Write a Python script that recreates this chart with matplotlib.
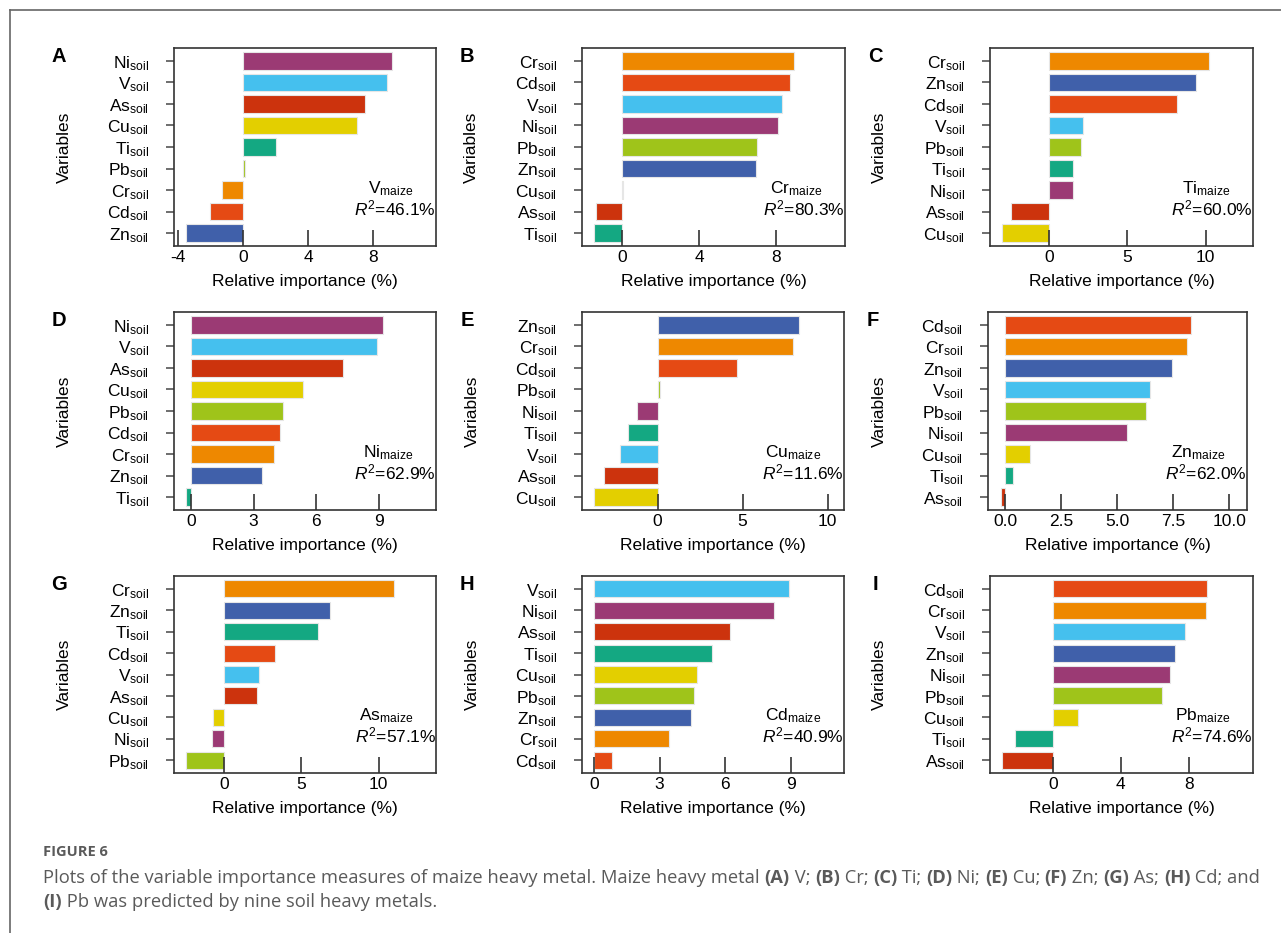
import numpy as np
import matplotlib
matplotlib.use("Agg")
import matplotlib.pyplot as plt
from matplotlib.lines import Line2D

plt.rcParams['font.family'] = ['Liberation Sans', 'DejaVu Sans']
plt.rcParams['mathtext.fontset'] = 'custom'
plt.rcParams['mathtext.rm'] = 'Liberation Sans'
plt.rcParams['mathtext.it'] = 'Liberation Sans:italic'
plt.rcParams['axes.unicode_minus'] = False

# colours of the soil metals
colors = {'Ni': '#9b3a74', 'V': '#45c0ee', 'As': '#cc330d', 'Cu': '#e3cf00',
          'Ti': '#14a882', 'Pb': '#9fc41a', 'Cr': '#ee8800', 'Cd': '#e54a14',
          'Zn': '#4060aa'}

# data, one panel each (top bar first)
letters = ['A', 'B', 'C', 'D', 'E', 'F', 'G', 'H', 'I']
maize = ['V', 'Cr', 'Ti', 'Ni', 'Cu', 'Zn', 'As', 'Cd', 'Pb']
r2 = ['46.1', '80.3', '60.0', '62.9', '11.6', '62.0', '57.1', '40.9', '74.6']
vars_A = ['Ni', 'V', 'As', 'Cu', 'Ti', 'Pb', 'Cr', 'Cd', 'Zn']
vals_A = [9.15, 8.82, 7.47, 7.02, 2.01, 0.12, -1.33, -2.05, -3.55]
vars_B = ['Cr', 'Cd', 'V', 'Ni', 'Pb', 'Zn', 'Cu', 'As', 'Ti']
vals_B = [8.92, 8.71, 8.28, 8.07, 6.98, 6.96, 0.03, -1.38, -1.47]
vars_C = ['Cr', 'Zn', 'Cd', 'V', 'Pb', 'Ti', 'Ni', 'As', 'Cu']
vals_C = [10.23, 9.36, 8.15, 2.19, 2.04, 1.53, 1.51, -2.41, -2.98]
vars_D = ['Ni', 'V', 'As', 'Cu', 'Pb', 'Cd', 'Cr', 'Zn', 'Ti']
vals_D = [9.17, 8.92, 7.28, 5.38, 4.39, 4.28, 3.99, 3.38, -0.24]
vars_E = ['Zn', 'Cr', 'Cd', 'Pb', 'Ni', 'Ti', 'V', 'As', 'Cu']
vals_E = [8.29, 7.94, 4.69, 0.12, -1.22, -1.75, -2.24, -3.16, -3.75]
vars_F = ['Cd', 'Cr', 'Zn', 'V', 'Pb', 'Ni', 'Cu', 'Ti', 'As']
vals_F = [8.28, 8.10, 7.46, 6.45, 6.27, 5.42, 1.10, 0.36, -0.19]
vars_G = ['Cr', 'Zn', 'Ti', 'Cd', 'V', 'As', 'Cu', 'Ni', 'Pb']
vals_G = [10.97, 6.85, 6.08, 3.30, 2.26, 2.15, -0.69, -0.78, -2.48]
vars_H = ['V', 'Ni', 'As', 'Ti', 'Cu', 'Pb', 'Zn', 'Cr', 'Cd']
vals_H = [8.92, 8.22, 6.22, 5.40, 4.70, 4.56, 4.45, 3.43, 0.84]
vars_I = ['Cd', 'Cr', 'V', 'Zn', 'Ni', 'Pb', 'Cu', 'Ti', 'As']
vals_I = [9.06, 9.00, 7.80, 7.19, 6.92, 6.41, 1.47, -2.20, -2.96]

all_vars = [vars_A, vars_B, vars_C, vars_D, vars_E, vars_F, vars_G, vars_H, vars_I]
all_vals = [vals_A, vals_B, vals_C, vals_D, vals_E, vals_F, vals_G, vals_H, vals_I]
xlims = [(-4.26, 11.86), (-2.09, 11.56), (-3.77, 13.02), (-0.81, 11.73), (-4.45, 10.96),
         (-0.76, 10.79), (-3.23, 13.7), (-0.55, 11.44), (-3.69, 11.78)]
xticks = [[-4, 0, 4, 8], [0, 4, 8], [0, 5, 10], [0, 3, 6, 9], [0, 5, 10],
          [0, 2.5, 5, 7.5, 10], [0, 5, 10], [0, 3, 6, 9], [0, 4, 8]]

W, H = 1281, 933
fig = plt.figure(figsize=(W / 100, H / 100), dpi=100)

lefts = [[174, 582, 990], [174, 582, 988], [174, 582, 990]]
rights = [[436, 845, 1253], [436, 844, 1247], [436, 844, 1253]]
tops = [48, 312, 576]
bots = [246, 510, 773]
frame = '#333333'

for k in range(9):
    r, c = divmod(k, 3)
    l, rt = lefts[r][c], rights[r][c]
    ax = fig.add_axes([l / W, 1 - bots[r] / H, (rt - l) / W, (bots[r] - tops[r]) / H])
    names = all_vars[k]
    vals = all_vals[k]
    y = np.arange(len(names))[::-1]
    ax.barh(y, vals, height=0.8, color=[colors[n] for n in names],
            edgecolor='#e6e6e6', linewidth=0.8)
    ax.set_ylim(-0.6, 8.6)
    ax.set_xlim(*xlims[k])
    ax.set_xticks(xticks[k])
    if k == 5:
        ax.set_xticklabels(['%.1f' % t for t in xticks[k]])
    else:
        ax.set_xticklabels(['%g' % t for t in xticks[k]])
    ax.set_yticks(y)
    ax.set_yticklabels([r'$\mathrm{%s}_{\mathrm{soil}}$' % n for n in names])
    ax.tick_params(axis='x', direction='in', length=11.5, width=1.2, color=frame,
                   labelsize=12.5, pad=3)
    ax.tick_params(axis='y', direction='out', length=6, width=1.2, color='#555555',
                   labelsize=12.5, pad=12)
    for s in ax.spines.values():
        s.set_color(frame)
        s.set_linewidth(1.2)
    ax.set_xlabel('Relative importance (%)', fontsize=12.5, va='center')
    ax.xaxis.set_label_coords(0.5, -0.18)
    ax.set_ylabel('Variables', fontsize=12.5, va='center')
    ax.yaxis.set_label_coords(-0.42, 0.5)
    ax.text(0.915, 0.29, r'$\mathrm{%s}_{\mathrm{maize}}$' % maize[k], transform=ax.transAxes,
            ha='right', va='center', fontsize=12.5)
    ax.text(1.0, 0.19, r'$\mathit{R}^{2}$=' + r2[k] + '%', transform=ax.transAxes,
            ha='right', va='center', fontsize=12.5)
    fig.text((l - 115) / W, 1 - (tops[r] + 8) / H, letters[k], fontsize=14.5,
             fontweight='bold', ha='center', va='center')

# page border lines
fig.add_artist(Line2D([10 / W, 1], [1 - 10 / H, 1 - 10 / H], color='#666666', lw=1.2))
fig.add_artist(Line2D([10 / W, 10 / W], [0, 1 - 10 / H], color='#666666', lw=1.2))

# caption
cap_font = ['Open Sans', 'DejaVu Sans']
grey = '#5a5a5a'
fig.text(43 / W, 1 - 852 / H, 'FIGURE 6', fontsize=10.5, color=grey, family=cap_font,
         va='center', fontweight='bold')

def rich_line(x, y, parts, size):
    renderer = fig.canvas.get_renderer()
    for s, bold in parts:
        t = fig.text(x / W, 1 - y / H, s, fontsize=size, color=grey, family=cap_font,
                     fontweight='bold' if bold else 'normal', va='center')
        x += t.get_window_extent(renderer).width

line1 = [('Plots of the variable importance measures of maize heavy metal. Maize heavy metal ', False),
         ('(A)', True), (' V; ', False), ('(B)', True), (' Cr; ', False), ('(C)', True),
         (' Ti; ', False), ('(D)', True), (' Ni; ', False), ('(E)', True), (' Cu; ', False),
         ('(F)', True), (' Zn; ', False), ('(G)', True), (' As; ', False), ('(H)', True),
         (' Cd; and', False)]
line2 = [('(I)', True), (' Pb was predicted by nine soil heavy metals.', False)]
rich_line(43, 878, line1, 13.2)
rich_line(43, 902, line2, 13.2)

fig.savefig('out.png', dpi=100)
